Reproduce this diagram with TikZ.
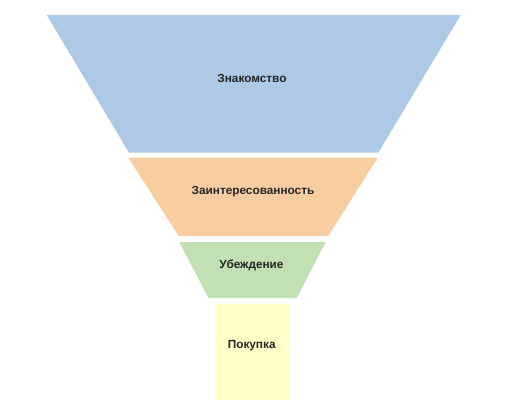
\documentclass[tikz,border=0pt]{standalone}
\usepackage{fontspec}
\setmainfont{Liberation Sans}
\definecolor{cblue}{RGB}{174,201,229}
\definecolor{corange}{RGB}{248,206,161}
\definecolor{cgreen}{RGB}{193,225,181}
\definecolor{cyellow}{RGB}{255,255,200}
\begin{document}
\begin{tikzpicture}[x=1pt,y=-1pt,
  lbl/.style={font=\fontsize{11.8}{14}\selectfont\bfseries, text=black!85, inner sep=0pt}]
\useasboundingbox (0,0) rectangle (512,420);
\fill[cblue] (46.7,15) -- (460.7,15) -- (378.3,152.7) -- (129,152.7) -- cycle;
\fill[corange] (128.3,157.7) -- (377.7,157.7) -- (328.3,236) -- (178.7,236) -- cycle;
\fill[cgreen] (179.3,242) -- (325.7,242) -- (296.7,298) -- (208.5,298) -- cycle;
\fill[cyellow] (216,304) rectangle (289,399.5);
\node[lbl] (s1) at (252,78) {Знакомство};
\node[lbl] (s2) at (253,192) {Заинтересованность};
\node[lbl] (s3) at (251.5,265) {Убеждение};
\node[lbl] (s4) at (251.7,346) {Покупка};
\end{tikzpicture}
\end{document}
